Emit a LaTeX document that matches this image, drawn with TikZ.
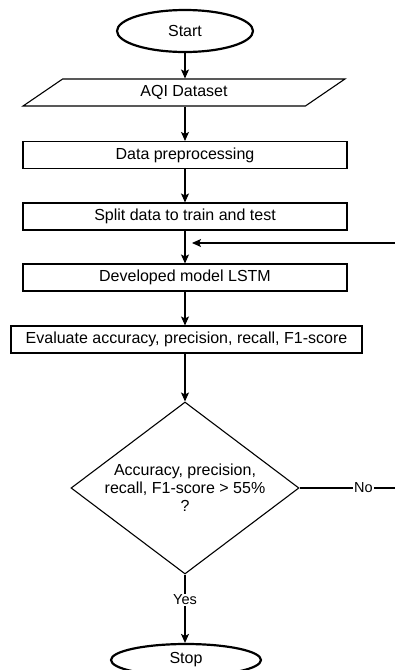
\documentclass[tikz,border=0pt]{standalone}
\usepackage{fontspec}
\setmainfont{Liberation Sans}
\usetikzlibrary{shapes.geometric,arrows.meta}

\begin{document}
\begin{tikzpicture}[x=1pt,y=-1pt,
  font=\fontsize{16}{18}\selectfont,
  line width=1.1pt,
  term/.style={draw, ellipse, line width=2.2pt, minimum width=136, minimum height=42, inner sep=0},
  data/.style={draw, trapezium, trapezium left angle=45, trapezium right angle=135,
    trapezium stretches=true, minimum width=322, minimum height=27, inner sep=0},
  box/.style={draw, rectangle, minimum width=324, minimum height=27, inner sep=0},
  decide/.style={draw, diamond, minimum width=228, minimum height=172, inner sep=0},
  arr/.style={-{Stealth[length=9pt,width=8pt,inset=2pt]}},
  lbl/.style={fill=white, inner sep=1pt, font=\fontsize{14.5}{16}\selectfont}]

\useasboundingbox (0,0) rectangle (395,670);

% Draw nodes
\node [term] (start) at (185,31) {Start};
\node [data] (aqi) at (184,92.5) {AQI Dataset};
\node [box] (pre) at (185,155) {Data preprocessing};
\node [box] (split) at (185,216.5) {Split data to train and test};
\node [box] (model) at (185,277.5) {Developed model LSTM};
\node [box, minimum width=351] (eval) at (186.5,339.5) {Evaluate accuracy, precision, recall, F1-score};
\node [decide] (check) at (185,488) {};
\node [align=center] (checktext) at (check) {Accuracy, precision,\\recall, F1-score > 55\%\\?};
\node [term, minimum width=150, minimum height=32] (stop) at (186,660) {Stop};

% Draw flow
\draw [arr] (start) -- (start |- aqi.north);
\draw [arr] (start |- aqi.south) -- (pre);
\draw [arr] (pre) -- (split);
\draw [arr] (split) -- (model);
\draw [arr] (model) -- (model |- eval.north);
\draw [arr] (model |- eval.south) -- (check);
\draw [arr] (check) -- node [lbl, pos=0.37] {Yes} (check |- stop.north);

% Draw loop back
\coordinate (noend) at (395,488);
\coordinate (back) at (395,243);
\coordinate (join) at (192,243);
\draw (check.east) -- node [lbl, pos=0.67] {No} (noend);
\draw [arr] (back) -- (join);
\end{tikzpicture}
\end{document}
